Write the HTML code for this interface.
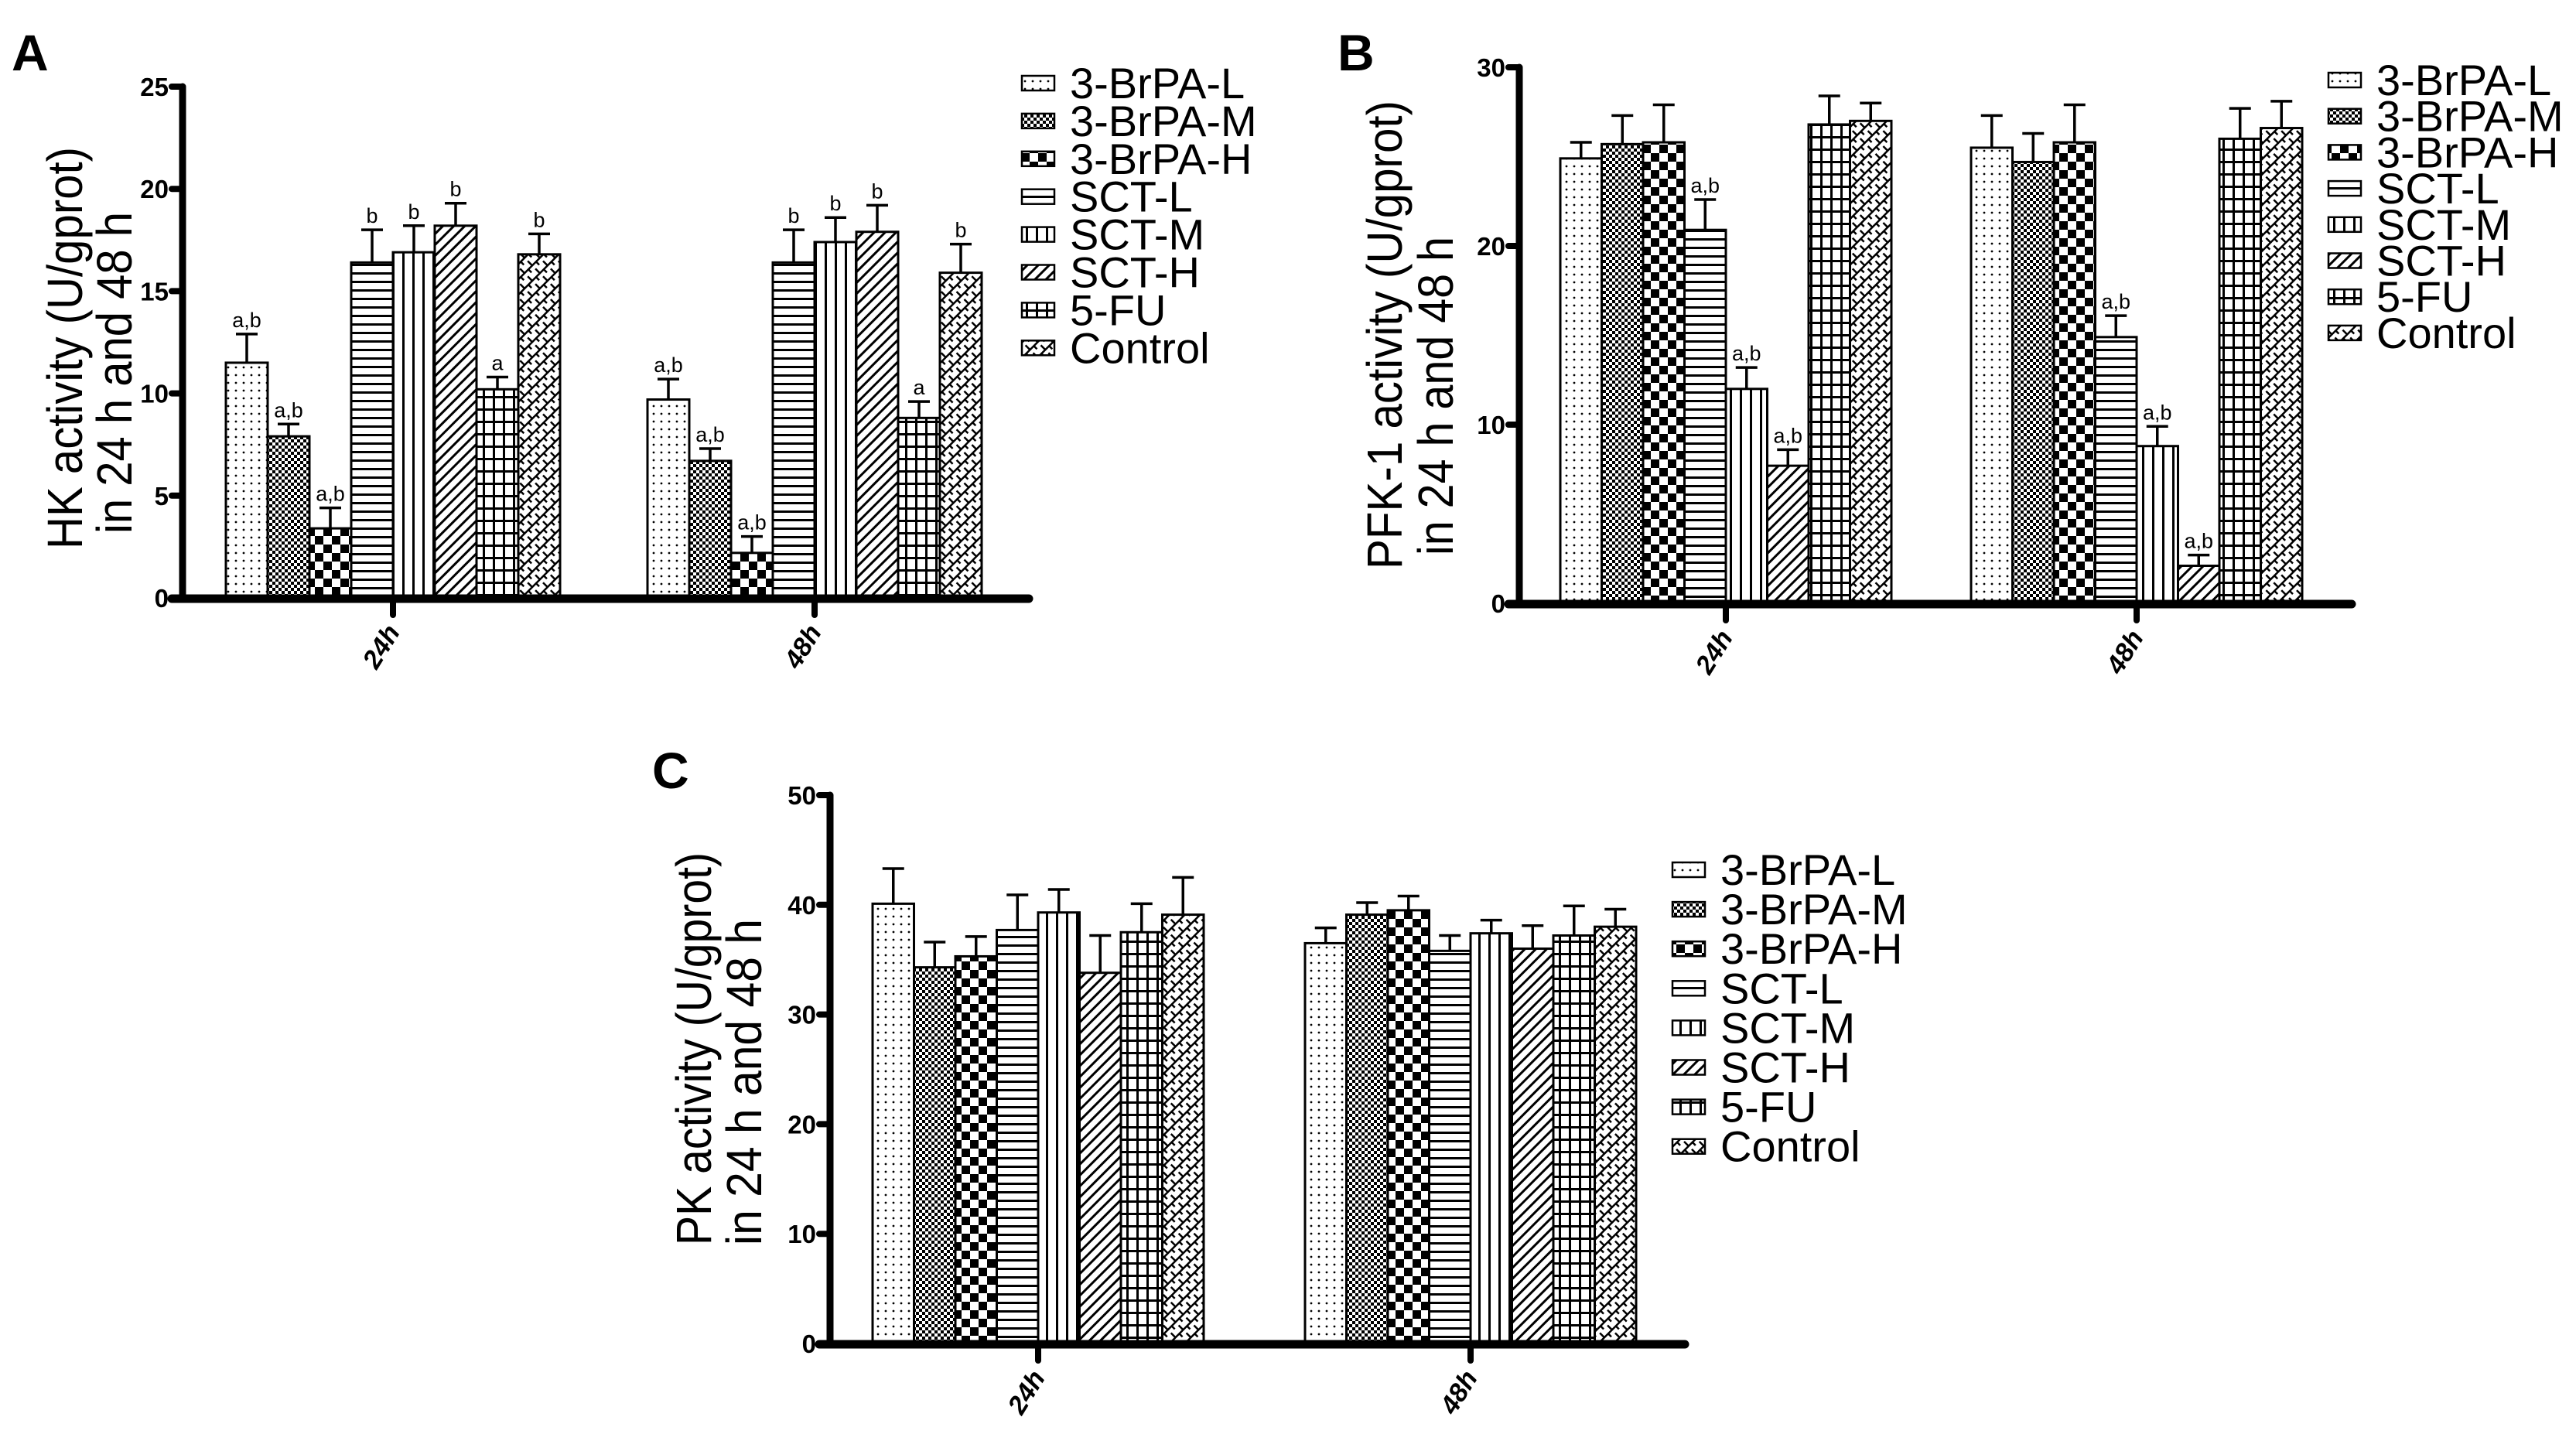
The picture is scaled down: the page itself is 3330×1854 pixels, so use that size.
<!DOCTYPE html>
<html><head><meta charset="utf-8"><style>
html,body{margin:0;padding:0;background:#fff;}
svg{display:block;font-family:"Liberation Sans",Arial,sans-serif;}
</style></head><body>
<svg id="fig" width="3330" height="1854" viewBox="0 0 3330 1854" xmlns="http://www.w3.org/2000/svg">
<defs>
<pattern id="p0" patternUnits="userSpaceOnUse" width="10" height="10"><rect width="10" height="10" fill="#fff"/><circle cx="5" cy="5" r="1.4" fill="#000"/></pattern>
<pattern id="p1" patternUnits="userSpaceOnUse" width="8" height="8"><rect width="8" height="8" fill="#fff"/><rect x="0" y="0" width="4" height="4" fill="#000"/><rect x="4" y="4" width="4" height="4" fill="#000"/></pattern>
<pattern id="p2" patternUnits="userSpaceOnUse" width="22" height="22"><rect width="22" height="22" fill="#fff"/><rect x="0" y="0" width="11" height="11" fill="#000"/><rect x="11" y="11" width="11" height="11" fill="#000"/></pattern>
<pattern id="p3" patternUnits="userSpaceOnUse" width="10" height="11"><rect width="10" height="11" fill="#fff"/><rect x="0" y="0" width="10" height="3" fill="#000"/></pattern>
<pattern id="p4" patternUnits="userSpaceOnUse" width="13" height="10"><rect width="13" height="10" fill="#fff"/><rect x="0" y="0" width="3" height="10" fill="#000"/></pattern>
<pattern id="p5" patternUnits="userSpaceOnUse" width="10" height="10" patternTransform="rotate(45)"><rect width="10" height="10" fill="#fff"/><rect x="0" y="0" width="3" height="10" fill="#000"/></pattern>
<pattern id="p6" patternUnits="userSpaceOnUse" width="13" height="16"><rect width="13" height="16" fill="#fff"/><rect x="0" y="0" width="3" height="16" fill="#000"/><rect x="0" y="0" width="13" height="3" fill="#000"/></pattern>
<pattern id="p7" patternUnits="userSpaceOnUse" width="14" height="14" patternTransform="rotate(45)"><rect width="14" height="14" fill="#fff"/><rect x="0" y="0" width="2.5" height="14" fill="#000"/><rect x="0" y="0" width="7" height="2.5" fill="#000"/><rect x="7" y="7" width="7" height="2.5" fill="#000"/></pattern>
</defs>
<g id="root"></g>
</svg>
<script>
// ---- data ----
const groups = ["24h", "48h"];
const seriesNames = ["3-BrPA-L","3-BrPA-M","3-BrPA-H","SCT-L","SCT-M","SCT-H","5-FU","Control"];
// Panel A: HK
const hk24 = [11.5, 7.9, 3.4, 16.4, 16.9, 18.2, 10.2, 16.8];
const hk24Err = [12.9, 8.5, 4.4, 18.0, 18.2, 19.3, 10.8, 17.8];
const hk48 = [9.7, 6.7, 2.2, 16.4, 17.4, 17.9, 8.8, 15.9];
const hk48Err = [10.7, 7.3, 3.0, 18.0, 18.6, 19.2, 9.6, 17.3];
const hkLetters = ["a,b","a,b","a,b","b","b","b","a","b"];
const hkTicks = [0, 5, 10, 15, 20, 25];
// Panel B: PFK-1
const pfk24 = [24.9, 25.7, 25.8, 20.9, 12.0, 7.7, 26.8, 27.0];
const pfk24Err = [25.8, 27.3, 27.9, 22.6, 13.2, 8.6, 28.4, 28.0];
const pfk48 = [25.5, 24.7, 25.8, 14.9, 8.8, 2.1, 26.0, 26.6];
const pfk48Err = [27.3, 26.3, 27.9, 16.1, 9.9, 2.7, 27.7, 28.1];
const pfkLetters = ["","","","a,b","a,b","a,b","",""];
const pfkTicks = [0, 10, 20, 30];
// Panel C: PK
const pk24 = [40.1, 34.3, 35.3, 37.7, 39.3, 33.8, 37.5, 39.1];
const pk24Err = [43.3, 36.6, 37.1, 40.9, 41.4, 37.2, 40.1, 42.5];
const pk48 = [36.5, 39.1, 39.5, 35.8, 37.4, 36.0, 37.2, 38.0];
const pk48Err = [37.9, 40.2, 40.8, 37.2, 38.6, 38.1, 39.9, 39.6];
const pkLetters = ["","","","","","","",""];
const pkTicks = [0, 10, 20, 30, 40, 50];

const NS = "http://www.w3.org/2000/svg";
const root = document.getElementById("root");
function mk(tag, attrs, parent){ const e=document.createElementNS(NS,tag); for(const k in attrs) e.setAttribute(k, attrs[k]); (parent||root).appendChild(e); return e; }

function panel(cfg){
  const g = mk("g", {});
  
  
  const yMax = cfg.ticks[cfg.ticks.length-1];
  const y = v => cfg.zeroY - (cfg.zeroY - cfg.topY) * v / yMax;
  const L = mk("text", {x: cfg.letterX, y: cfg.letterY, "font-size": 66, "font-weight": "bold"}, g);
  L.textContent = cfg.letter;
  
  
  const means = [cfg.m24, cfg.m48], errs = [cfg.e24, cfg.e48];
  groups.forEach((gn, gi) => {
    const x0 = cfg.groupCenter[gi] - cfg.barW * 4;
    means[gi].forEach((v, i) => {
      const bx = x0 + i * cfg.barW;
      const r = mk("rect", {x: bx, y: y(v), width: cfg.barW, height: cfg.zeroY - y(v), fill: "url(#p"+i+")", stroke: "#000", "stroke-width": 3}, g);
      
      
      const cx = bx + cfg.barW/2, et = y(errs[gi][i]);
      const eb = mk("path", {d: `M${cx},${y(v)} V${et} M${cx-14},${et} H${cx+14}`, stroke: "#000", "stroke-width": 3.5, fill: "none"}, g);
      
      
      if (cfg.letters[i]) {
        const t = mk("text", {x: cx, y: et - 9, "font-size": 27, "text-anchor": "middle"}, g);
        t.textContent = cfg.letters[i];
        
        
      }
    });
    const tk = mk("line", {x1: cfg.groupCenter[gi], y1: cfg.zeroY, x2: cfg.groupCenter[gi], y2: cfg.zeroY + 22, stroke: "#000", "stroke-width": 8, "stroke-linecap": "round"}, g);
    
    
    const tx = cfg.groupCenter[gi] + 10, ty = cfg.zeroY + 44;
    const xl = mk("text", {x: tx, y: ty, "font-size": 34, "font-weight": "bold", "font-style": "italic", "text-anchor": "end", transform: `rotate(-58 ${tx} ${ty})`}, g);
    xl.textContent = gn;
    
    
  });
  const ya = mk("line", {x1: cfg.axisX, y1: cfg.topY, x2: cfg.axisX, y2: cfg.zeroY, stroke: "#000", "stroke-width": 9, "stroke-linecap": "round"}, g);
  
  
  const xa = mk("line", {x1: cfg.axisX - 14, y1: cfg.zeroY + 1, x2: cfg.xEnd, y2: cfg.zeroY + 1, stroke: "#000", "stroke-width": 11, "stroke-linecap": "round"}, g);
  
  
  cfg.ticks.forEach(t => {
    const l = mk("line", {x1: cfg.axisX - 14, y1: y(t), x2: cfg.axisX, y2: y(t), stroke: "#000", "stroke-width": 8, "stroke-linecap": "round"}, g);
    
    
    const tl = mk("text", {x: cfg.axisX - 18, y: y(t) + 12, "font-size": 33, "font-weight": "bold", "text-anchor": "end"}, g);
    tl.textContent = t;
    
    
  });
  cfg.title.forEach((line, k) => {
    const tt = mk("text", {x: 0, y: 0, "font-size": 64, "text-anchor": "middle", textLength: line.len, lengthAdjust: "spacingAndGlyphs", transform: `translate(${line.x} ${line.cy}) rotate(-90)`}, g);
    tt.textContent = line.t;
    
    
  });
  seriesNames.forEach((s, i) => {
    const ly = cfg.legY + i * cfg.legStep;
    const b = mk("rect", {x: cfg.legX, y: ly - 9, width: 42, height: 19, fill: "url(#p"+i+")", stroke: "#000", "stroke-width": 2.5}, g);
    
    
    const lt = mk("text", {x: cfg.legX + 62, y: ly + 20, "font-size": 56}, g);
    lt.textContent = s;
    
    
  });
}

panel({name: "panel-a-hk-chart", letter: "A", letterX: 15, letterY: 91,
  m24: hk24, e24: hk24Err, m48: hk48, e48: hk48Err, letters: hkLetters, ticks: hkTicks,
  axisX: 236, zeroY: 773, topY: 112, xEnd: 1330, groupCenter: [508, 1053], barW: 54,
  title: [{t: "HK activity (U/gprot)", x: 106, cy: 450, len: 520}, {t: "in 24 h and 48 h", x: 170, cy: 482, len: 416}],
  legX: 1321, legY: 107, legStep: 48.9});
panel({name: "panel-b-pfk1-chart", letter: "B", letterX: 1729, letterY: 91,
  m24: pfk24, e24: pfk24Err, m48: pfk48, e48: pfk48Err, letters: pfkLetters, ticks: pfkTicks,
  axisX: 1964, zeroY: 780, topY: 87, xEnd: 3040, groupCenter: [2231, 2762], barW: 53.5,
  title: [{t: "PFK-1 activity (U/gprot)", x: 1812, cy: 433, len: 606}, {t: "in 24 h and 48 h", x: 1878, cy: 512, len: 412}],
  legX: 3010, legY: 103, legStep: 46.7});
panel({name: "panel-c-pk-chart", letter: "C", letterX: 843, letterY: 1019,
  m24: pk24, e24: pk24Err, m48: pk48, e48: pk48Err, letters: pkLetters, ticks: pkTicks,
  axisX: 1073, zeroY: 1737, topY: 1028, xEnd: 2178, groupCenter: [1342, 1901], barW: 53.5,
  title: [{t: "PK activity (U/gprot)", x: 919, cy: 1356, len: 508}, {t: "in 24 h and 48 h", x: 984, cy: 1399, len: 422}],
  legX: 2162, legY: 1124, legStep: 51.1});
</script>
</body></html>
